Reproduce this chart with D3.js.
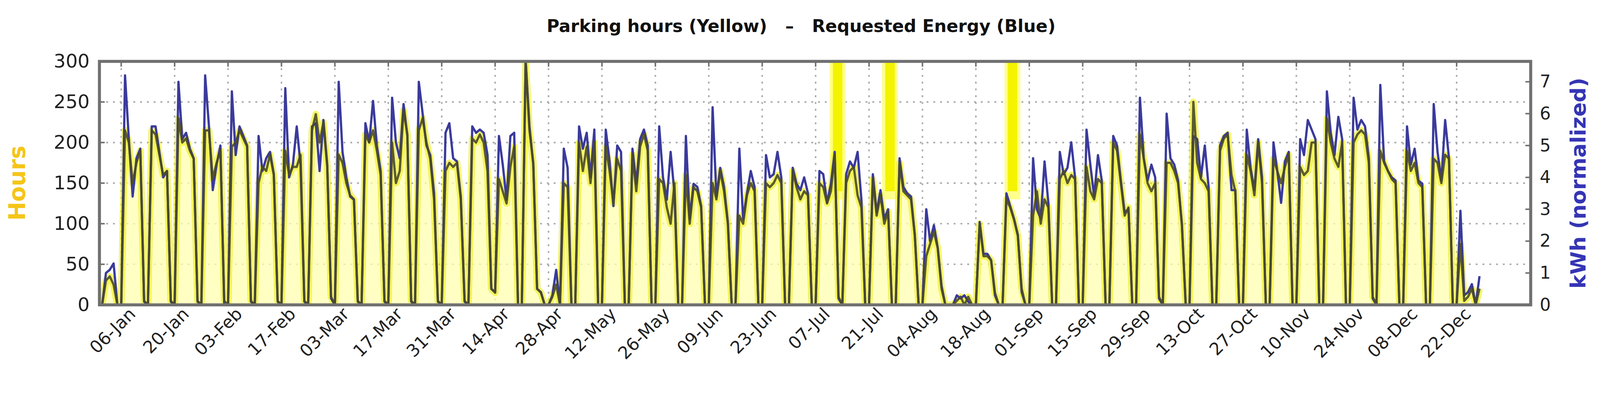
<!DOCTYPE html>
<html><head><meta charset="utf-8">
<script src="https://cdn.jsdelivr.net/npm/d3@7"></script>
<style>html,body{margin:0;padding:0;background:#fff;overflow:hidden}svg{display:block;width:100vw;height:100vh}</style>
</head><body>
<svg id="c" viewBox="0 0 4248 1030" preserveAspectRatio="xMidYMid meet"></svg>
<script>
const startDate = "2019-01-01";
// daily parking hours, Jan 1 .. Dec 28
const hours = [
 0,30,35,25,0,0,
 215,200,150,175,190,5,0,
 215,210,185,160,165,5,0,
 230,200,205,190,180,5,0,
 215,215,155,175,190,5,0,
 195,200,215,205,195,5,0,
 150,170,165,185,160,5,0,
 190,160,170,170,185,5,0,
 215,235,200,225,170,10,0,
 185,175,150,135,130,5,0,
 210,200,215,190,160,5,0,
 200,150,165,240,210,5,0,
 215,230,200,180,130,5,0,
 165,175,170,175,130,5,0,
 205,200,210,200,165,20,15,
 155,140,125,170,195,0,0,
 300,215,175,20,15,0,0,
 10,25,0,150,145,0,0,
 200,165,195,150,200,0,0,
 195,165,125,180,165,0,0,
 185,140,195,210,190,0,0,
 155,150,120,100,150,0,0,
 160,100,145,140,120,0,0,
 150,130,165,140,100,0,0,
 110,100,135,150,140,0,0,
 150,145,150,160,150,0,0,
 165,145,130,140,135,0,0,
 150,145,125,140,185,10,0,
 150,165,170,135,120,0,0,
 155,110,135,100,115,0,0,
 175,140,135,130,85,0,0,
 60,75,90,70,20,0,0,
 0,5,10,0,10,0,0,
 100,60,60,55,15,0,0,
 130,120,105,85,20,0,0,
 110,140,100,130,120,0,0,
 155,165,150,160,155,0,0,
 170,140,130,155,150,0,0,
 200,190,150,110,120,0,0,
 210,180,150,140,150,10,0,
 175,175,165,150,100,0,0,
 250,175,155,150,140,0,0,
 190,205,210,160,140,0,0,
 185,165,135,200,150,0,0,
 180,165,150,170,185,0,0,
 170,160,165,200,200,0,0,
 230,200,180,170,200,0,0,
 200,210,215,210,175,10,0,
 190,175,165,155,150,0,0,
 190,165,175,150,145,0,0,
 180,175,150,185,180,0,0,
 75,5,10,20,0,20
];
// daily requested energy, kWh (normalized)
const energy = [
 0,1.0,1.1,1.3,0,0,
 7.2,5.2,3.4,4.6,4.9,0.1,0,
 5.6,5.6,4.8,4.0,4.2,0.1,0,
 7.0,5.2,5.4,4.9,4.6,0.1,0,
 7.2,5.6,3.6,4.4,5.0,0,0,
 6.7,4.7,5.6,5.3,5.0,0.1,0,
 5.3,4.2,4.6,4.8,4.1,0.1,0,
 6.8,4.0,4.4,5.6,4.4,0.1,0,
 5.6,5.7,4.2,5.8,4.4,0.2,0,
 7.0,4.8,4.0,3.4,3.3,0.1,0,
 5.7,5.1,6.4,5.0,4.2,0.1,0,
 6.5,5.1,4.6,6.3,5.3,0.1,0,
 7.0,6.0,5.0,4.7,3.5,0.1,0,
 5.4,5.7,4.6,4.5,3.4,0.1,0,
 5.6,5.4,5.5,5.4,4.7,0.5,0.4,
 5.3,4.4,3.3,5.3,5.4,0,0,
 7.7,5.6,4.4,0.5,0.4,0,0,
 0.3,1.1,0,4.9,4.3,0,0,
 5.6,4.9,5.4,4.0,5.5,0,0,
 5.5,4.5,3.1,5.0,4.8,0,0,
 4.9,3.8,5.2,5.5,5.0,0,0,
 5.6,4.0,3.3,4.8,3.5,0,0,
 5.3,2.7,3.8,3.7,3.1,0,0,
 6.2,3.4,4.3,3.7,2.6,0,0,
 4.9,2.7,3.5,4.2,3.7,0,0,
 4.7,4.0,4.1,4.8,4.0,0,0,
 4.3,3.8,3.6,4.0,3.5,0,0,
 4.2,4.1,3.2,3.8,4.8,0.2,0,
 4.1,4.5,4.3,4.8,3.3,0,0,
 4.1,2.9,3.6,2.7,3.0,0,0,
 4.6,3.7,3.5,3.4,2.2,0,0,
 3.0,2.0,2.5,1.8,0.6,0,0,
 0,0.3,0.2,0.3,0.1,0,0,
 2.6,1.6,1.6,1.4,0.3,0,0,
 3.5,3.1,2.7,2.2,0.4,0,0,
 4.6,3.0,2.7,4.5,3.2,0,0,
 4.8,4.1,4.3,5.1,4.0,0,0,
 5.5,4.4,3.4,4.7,3.9,0,0,
 5.3,5.0,3.9,2.9,3.0,0,0,
 6.5,4.6,3.9,4.4,4.0,0.2,0,
 6.0,4.6,4.4,3.9,2.5,0,0,
 5.3,5.2,4.0,5.0,3.7,0,0,
 5.0,5.3,5.4,3.6,3.6,0,0,
 5.5,4.3,3.6,5.2,4.0,0,0,
 5.1,4.2,3.2,4.5,4.8,0,0,
 5.2,4.7,5.8,5.5,5.2,0,0,
 6.7,5.4,4.7,5.9,5.2,0,0,
 6.5,5.5,5.8,5.6,4.6,0.2,0,
 6.9,4.5,4.2,4.0,3.9,0,0,
 5.6,4.4,4.9,3.9,3.8,0,0,
 6.3,4.8,3.9,5.8,4.6,0,0,
 2.95,0.3,0.4,0.65,0,0.9
];
// days where parking hours exceed the axis (bright yellow spikes)
const peakCenters = ["2019-07-12T18:00","2019-07-26T12:00","2019-08-27T14:00"];
const hourTicks = [0,50,100,150,200,250,300];
const energyTicks = [0,1,2,3,4,5,6,7];
const firstTick = "2019-01-06", tickStepDays = 14, tickCount = 26;

const svg = d3.select("#c");
const L = 264, R = 4064, T = 144, B = 791;
const x = d3.scaleUtc().domain([new Date(Date.UTC(2018,11,31,7)), new Date(Date.UTC(2020,0,10,10))]).range([L,R]);
const yH = d3.scaleLinear().domain([0,300]).range([B,T]);
const yE = d3.scaleLinear().domain([0,7.64]).range([B,T]);
const day0 = new Date(startDate+"T00:00Z");
const dateOf = i => d3.utcDay.offset(day0, i);
const hData = hours.map((v,i)=>({d:dateOf(i),v}));
const eData = energy.map((v,i)=>({d:dateOf(i),v}));
const xTicks = d3.range(tickCount).map(k=>d3.utcDay.offset(new Date(firstTick+"T00:00Z"), k*tickStepDays)).filter(d=>x(d)<R);

const g = svg.append("g");
g.append("clipPath").attr("id","clip").append("rect").attr("x",L).attr("y",T).attr("width",R-L).attr("height",B-T);

g.selectAll(".hg").data(hourTicks.slice(1,-1)).join("line").attr("x1",L).attr("x2",R).attr("y1",d=>yH(d)).attr("y2",d=>yH(d))
 .attr("stroke","#aaa").attr("stroke-width",4).attr("stroke-dasharray","5,13");
g.selectAll(".vg").data(xTicks).join("line").attr("x1",d=>x(d)).attr("x2",d=>x(d)).attr("y1",T).attr("y2",B)
 .attr("stroke","#aaa").attr("stroke-width",4).attr("stroke-dasharray","5,13");

const plot = g.append("g").attr("clip-path","url(#clip)");
plot.append("path").datum(hData).attr("d",d3.area().x(d=>x(d.d)).y0(B).y1(d=>yH(d.v)))
 .attr("fill","#ffffb0").attr("opacity",0.75);
peakCenters.forEach(c=>{
  const cd = new Date(c+"Z");
  const x0 = x(d3.utcHour.offset(cd,-50)), x1 = x(d3.utcHour.offset(cd,50));
  plot.append("rect").attr("x",x0).attr("width",x1-x0).attr("y",T).attr("height",yH(130)-T).attr("fill","#ffff8c");
  const c0 = x(d3.utcHour.offset(cd,-30)), c1 = x(d3.utcHour.offset(cd,30));
  plot.append("rect").attr("x",c0).attr("width",c1-c0).attr("y",T).attr("height",yH(140)-T).attr("fill","#f4f400");
});
plot.append("path").datum(hData).attr("d",d3.line().x(d=>x(d.d)).y(d=>yH(d.v)))
 .attr("fill","none").attr("stroke","#eeee20").attr("stroke-width",18).attr("opacity",0.65).attr("stroke-linejoin","round");
plot.append("path").datum(eData).attr("d",d3.line().x(d=>x(d.d)).y(d=>yE(d.v)))
 .attr("fill","none").attr("stroke","#3a3a9c").attr("stroke-width",6).attr("stroke-linejoin","round");
plot.append("path").datum(hData).attr("d",d3.line().x(d=>x(d.d)).y(d=>yH(d.v)))
 .attr("fill","none").attr("stroke","#4a4a28").attr("stroke-width",6).attr("opacity",0.9).attr("stroke-linejoin","round");

g.append("rect").attr("x",L).attr("y",T).attr("width",R-L).attr("height",B-T).attr("fill","none").attr("stroke","#707070").attr("stroke-width",8);

const font = "DejaVu Sans, sans-serif";
const la = g.append("g").attr("transform",`translate(${L},0)`).call(d3.axisLeft(yH).tickValues(hourTicks).tickSize(0).tickPadding(26));
la.select(".domain").remove();
la.selectAll("text").attr("font-size",50).attr("font-family",font).attr("fill","#222");
const ra = g.append("g").attr("transform",`translate(${R},0)`).call(d3.axisRight(yE).tickValues(energyTicks).tickSize(0).tickPadding(24));
ra.select(".domain").remove();
ra.selectAll("text").attr("font-size",46).attr("font-family",font).attr("fill","#222");
g.selectAll(".rt").data(energyTicks).join("line").attr("x1",R-14).attr("x2",R).attr("y1",d=>yE(d)).attr("y2",d=>yE(d)).attr("stroke","#707070").attr("stroke-width",4);
g.selectAll(".ltk").data(hourTicks).join("line").attr("x1",L).attr("x2",L+14).attr("y1",d=>yH(d)).attr("y2",d=>yH(d)).attr("stroke","#707070").attr("stroke-width",4);
const ba = g.append("g").attr("transform",`translate(0,${B})`).call(d3.axisBottom(x).tickValues(xTicks).tickFormat(d3.utcFormat("%d-%b")).tickSize(0).tickPadding(20));
ba.select(".domain").remove();
ba.selectAll("text").attr("font-size",46).attr("font-family",font).attr("fill","#222")
 .attr("text-anchor","end").attr("dx","0.2em").attr("dy","0.6em").attr("transform","rotate(-45)");
g.selectAll(".tt").data(xTicks).join("line").attr("x1",d=>x(d)).attr("x2",d=>x(d)).attr("y1",T).attr("y2",T+14).attr("stroke","#707070").attr("stroke-width",4);

svg.append("text").attr("x",2127).attr("y",66).attr("text-anchor","middle").attr("font-size",46).attr("font-weight","bold").attr("font-family",font).attr("fill","#111")
 .style("white-space","pre").text("Parking hours (Yellow)   \u2013   Requested Energy (Blue)");
svg.append("text").attr("transform",`translate(66,${(T+B)/2}) rotate(-90)`).attr("text-anchor","middle").attr("font-size",60).attr("font-weight","bold").attr("font-family",font).attr("fill","#f5c518").text("Hours");
svg.append("text").attr("transform",`translate(4210,${(T+B)/2}) rotate(-90)`).attr("text-anchor","middle").attr("font-size",56).attr("font-weight","bold").attr("font-family",font).attr("fill","#3535b5").text("kWh (normalized)");
</script>
</body></html>
